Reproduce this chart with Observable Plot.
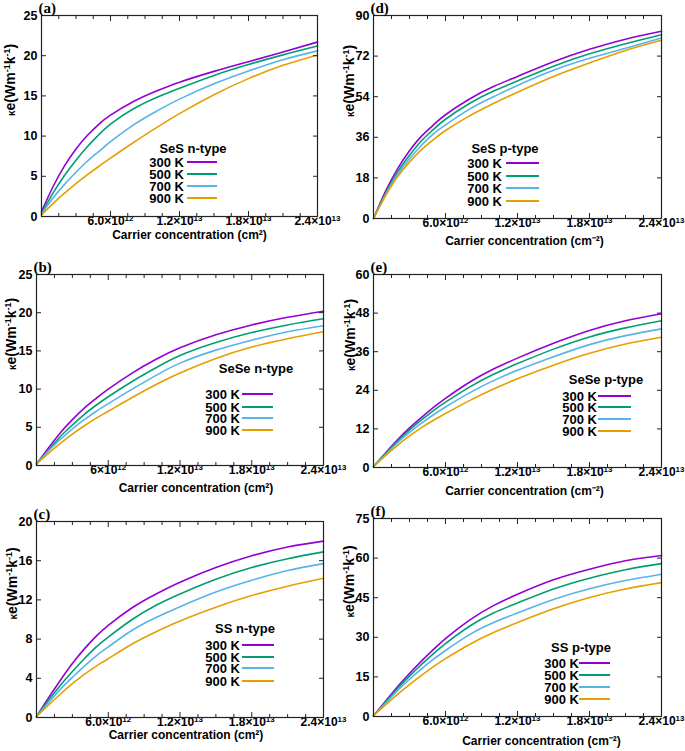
<!DOCTYPE html>
<html><head><meta charset="utf-8">
<script src="https://cdn.jsdelivr.net/npm/d3@7"></script>
<script src="https://cdn.jsdelivr.net/npm/@observablehq/plot@0.6"></script>
<style>
body{margin:0;background:#fff;}
#root{position:relative;width:685px;height:751px;overflow:hidden;background:#fff;font-family:"Liberation Sans",Arial,sans-serif;}
.panel{position:absolute;}
.panel svg{overflow:visible;}
.lg{position:absolute;font-weight:bold;font-size:13px;color:#000;white-space:nowrap;line-height:1;}
.ln{position:absolute;height:2px;}
</style></head><body><div id="root"></div>
<script>
// ---------- data ----------
const conc = [0, 1e12, 2e12, 3e12, 4e12, 5e12, 6e12, 8e12, 1e13, 1.2e13, 1.5e13, 1.8e13, 2.1e13, 2.4e13];
const temps = ["300 K", "500 K", "700 K", "900 K"];
const colors = ["#9400d3", "#009e73", "#56b4e9", "#e69f00"];
const xTicks = [6e12, 1.2e13, 1.8e13, 2.4e13];
const xMinor = [1.5e12, 3e12, 4.5e12, 7.5e12, 9e12, 1.05e13, 1.35e13, 1.5e13, 1.65e13, 1.95e13, 2.1e13, 2.25e13];
const xTickLabels = ["6.0×10¹²", "1.2×10¹³", "1.8×10¹³", "2.4×10¹³"];
const xTickLabelsB = ["6×10¹²", "1.2×10¹³", "1.8×10¹³", "2.4×10¹³"];
const yTicksA = [0, 5, 10, 15, 20, 25];
const yTicksD = [0, 18, 36, 54, 72, 90];
const yTicksB = [0, 5, 10, 15, 20, 25];
const yTicksE = [0, 12, 24, 36, 48, 60];
const yTicksC = [0, 4, 8, 12, 16, 20];
const yTicksF = [0, 15, 30, 45, 60, 75];

// (a) SeS n-type
const SeS_n_300 = [0.6, 3.7, 6.3, 8.4, 10.1, 11.5, 12.6, 14.3, 15.6, 16.7, 18.05, 19.25, 20.45, 21.7];
const SeS_n_500 = [0.4, 2.9, 5.1, 7.0, 8.7, 10.2, 11.5, 13.4, 14.8, 15.95, 17.55, 18.9, 20.1, 21.2];
const SeS_n_700 = [0.3, 2.3, 4.0, 5.5, 6.9, 8.1, 9.3, 11.4, 13.1, 14.6, 16.5, 18.1, 19.5, 20.6];
const SeS_n_900 = [0.2, 1.6, 2.9, 4.1, 5.2, 6.25, 7.25, 9.2, 11.05, 12.8, 15.15, 17.15, 18.8, 20.1];
// (d) SeS p-type
const SeS_p_300 = [0, 12, 22, 30, 36.5, 41.5, 46, 53, 58.5, 63, 69.5, 75, 79.5, 83];
const SeS_p_500 = [0, 11, 20.5, 28, 34.5, 39.5, 44, 51, 56.5, 61, 67.5, 73, 77.5, 81.5];
const SeS_p_700 = [0, 10.5, 19.5, 26.5, 32.5, 37.5, 41.5, 48.5, 54, 59, 65.7, 71, 75.5, 80];
const SeS_p_900 = [0, 10, 18.5, 25, 30.5, 35, 39, 45.5, 51, 56, 63, 69, 74.5, 79];
// (b) SeSe n-type
const SeSe_n_300 = [0.2, 2.3, 4.3, 6.0, 7.5, 8.8, 10.0, 12.1, 13.9, 15.4, 17.1, 18.4, 19.4, 20.2];
const SeSe_n_500 = [0.2, 2.0, 3.8, 5.3, 6.7, 7.9, 9.0, 11.0, 12.8, 14.4, 16.1, 17.4, 18.4, 19.2];
const SeSe_n_700 = [0.2, 1.9, 3.4, 4.8, 6.0, 7.1, 8.1, 10.0, 11.8, 13.4, 15.1, 16.4, 17.5, 18.3];
const SeSe_n_900 = [0.2, 1.6, 2.9, 4.1, 5.2, 6.2, 7.1, 8.9, 10.6, 12.1, 14.0, 15.5, 16.6, 17.5];
// (e) SeSe p-type
const SeSe_p_300 = [0.3, 4.5, 8.6, 12.3, 15.6, 18.7, 21.5, 26.5, 30.6, 34.0, 38.6, 42.6, 45.6, 47.8];
const SeSe_p_500 = [0.3, 4.3, 8.2, 11.7, 14.8, 17.7, 20.3, 25.0, 29.0, 32.3, 36.8, 40.6, 43.4, 45.6];
const SeSe_p_700 = [0.3, 4.0, 7.7, 10.9, 13.8, 16.4, 18.8, 23.2, 27.0, 30.2, 34.4, 38.2, 41.0, 43.1];
const SeSe_p_900 = [0.3, 3.7, 6.9, 9.8, 12.4, 14.7, 16.8, 20.8, 24.4, 27.6, 31.8, 35.5, 38.4, 40.5];
// (c) SS n-type
const SS_n_300 = [0.1, 2.0, 3.8, 5.5, 7.0, 8.3, 9.4, 11.2, 12.6, 13.8, 15.3, 16.5, 17.4, 18.0];
const SS_n_500 = [0.1, 1.75, 3.3, 4.7, 6.0, 7.2, 8.2, 10.0, 11.45, 12.6, 14.1, 15.3, 16.2, 16.9];
const SS_n_700 = [0.1, 1.5, 2.9, 4.1, 5.25, 6.3, 7.2, 8.9, 10.2, 11.3, 12.8, 14.0, 15.0, 15.7];
const SS_n_900 = [0.1, 1.25, 2.4, 3.45, 4.4, 5.25, 6.0, 7.5, 8.75, 9.85, 11.25, 12.45, 13.4, 14.2];
// (f) SS p-type
const SS_p_300 = [0.3, 5.8, 11.3, 16.3, 21.0, 25.4, 29.5, 36.5, 42.0, 46.3, 51.8, 55.8, 59.0, 61.0];
const SS_p_500 = [0.3, 5.4, 10.6, 15.3, 19.7, 23.8, 27.6, 34.2, 39.2, 43.0, 48.3, 52.4, 55.6, 57.9];
const SS_p_700 = [0.3, 5.0, 9.8, 14.1, 18.0, 21.7, 25.0, 31.0, 35.6, 39.2, 44.3, 48.4, 51.5, 53.9];
const SS_p_900 = [0.3, 4.4, 8.4, 12.1, 15.6, 18.9, 21.9, 27.3, 31.8, 35.6, 40.8, 45.1, 48.3, 50.7];

const yLabel = "κe(Wm⁻¹k⁻¹)";
const yLabelParts = [["κ", "small"], ["e(Wm", "normal"], ["-1", "sup"], ["k", "normal"], ["-1", "sup"], [")", "normal"]];
const xLabelN = "Carrier concentration (cm²)";
const xLabelP = "Carrier concentration (cm⁻²)";
const supMap = {"¹": "1", "²": "2", "³": "3"};

// ---------- layout ----------
const panels = [
  {letter:"(a)", name:"SeS n-type", series:[SeS_n_300,SeS_n_500,SeS_n_700,SeS_n_900], yMax:25, yTicks:yTicksA, xLabels:xTickLabels, xLabel:xLabelN,
   left:0, top:0, w:342, h:250, m:[15,25,34,41], ylabDx:-31, xlabDy:19, xlabDx:10,
   lg:{tx:193, ty:148, tr:184, rows:[162,174,186,198], l1:187, l2:217}},
  {letter:"(d)", name:"SeS p-type", series:[SeS_p_300,SeS_p_500,SeS_p_700,SeS_p_900], yMax:90, yTicks:yTicksD, xLabels:xTickLabels, xLabel:xLabelP,
   left:342, top:0, w:343, h:250, m:[15,24,32,31], ylabDx:-24, xlabDy:23, xlabDx:7,
   lg:{tx:505, ty:148, tr:502, rows:[163,176,188,201], l1:506, l2:539}},
  {letter:"(b)", name:"SeSe n-type", series:[SeSe_n_300,SeSe_n_500,SeSe_n_700,SeSe_n_900], yMax:25, yTicks:yTicksB, xLabels:xTickLabelsB, xLabel:xLabelN,
   left:0, top:250, w:342, h:250, m:[24,19,35,36], ylabDx:-25, xlabDy:23, xlabDx:16,
   lg:{tx:256, ty:368, tr:240, rows:[394,407,418,430], l1:242, l2:273}},
  {letter:"(e)", name:"SeSe p-type", series:[SeSe_p_300,SeSe_p_500,SeSe_p_700,SeSe_p_900], yMax:60, yTicks:yTicksE, xLabels:xTickLabels, xLabel:xLabelP,
   left:342, top:250, w:343, h:250, m:[24,24,33,31], ylabDx:-23, xlabDy:24, xlabDx:7,
   lg:{tx:606, ty:379, tr:597, rows:[396,407,419,431], l1:598, l2:631}},
  {letter:"(c)", name:"SS n-type", series:[SS_n_300,SS_n_500,SS_n_700,SS_n_900], yMax:20, yTicks:yTicksC, xLabels:xTickLabels, xLabel:xLabelN,
   left:0, top:500, w:342, h:251, m:[21,19,34,36], ylabDx:-24, xlabDy:18, xlabDx:6,
   lg:{tx:245, ty:628, tr:240, rows:[645,657,668,681], l1:242, l2:274}},
  {letter:"(f)", name:"SS p-type", series:[SS_p_300,SS_p_500,SS_p_700,SS_p_900], yMax:75, yTicks:yTicksF, xLabels:xTickLabels, xLabel:xLabelP,
   left:342, top:500, w:343, h:251, m:[18,24,35,31], ylabDx:-24, xlabDy:25, xlabDx:24,
   lg:{tx:581, ty:647, tr:579, rows:[663,675,687,699], l1:579, l2:610}}
];

const root = document.getElementById("root");
const sans = "Liberation Sans, Arial, Helvetica, sans-serif";
const SVGNS = "http://www.w3.org/2000/svg";

for (const p of panels) {
  const rows = p.series.flatMap((vals, i) => vals.map((v, j) => ({x: conc[j], y: v, t: temps[i]})));
  const svg = Plot.plot({
    width: p.w, height: p.h,
    marginTop: p.m[0], marginRight: p.m[1], marginBottom: p.m[2], marginLeft: p.m[3],
    style: {fontFamily: sans, background: "transparent", overflow: "visible"},
    x: {domain: [0, 2.4e13], label: null},
    y: {domain: [0, p.yMax], label: null},
    color: {domain: temps, range: colors},
    marks: [
      Plot.line(rows, {x: "x", y: "y", z: "t", stroke: "t", strokeWidth: 1.6, curve: "natural"}),
      Plot.axisX(xMinor, {anchor: "bottom", tickSize: -3, tickFormat: () => "", stroke: "#222"}),
      Plot.axisX(xMinor, {anchor: "top", tickSize: -3, tickFormat: () => "", stroke: "#222"}),
      Plot.axisX(xTicks, {anchor: "top", tickSize: -5, tickFormat: () => "", stroke: "#222"}),
      Plot.axisX(xTicks, {anchor: "bottom", tickSize: -5, tickPadding: 5, tickFormat: d => p.xLabels[xTicks.indexOf(d)],
        fontSize: 12, fontWeight: "bold", fill: "#000", stroke: "#222"}),
      Plot.axisY(p.yTicks, {anchor: "left", tickSize: -5, tickPadding: 9, tickFormat: d => String(d),
        fontSize: 12.5, fontWeight: "bold", fill: "#000", stroke: "#222"}),
      Plot.axisY(p.yTicks, {anchor: "right", tickSize: -5, tickFormat: () => "", stroke: "#222"}),
      Plot.frame({stroke: "#222", strokeWidth: 1.2}),
      Plot.text([p.xLabel], {text: d => d, frameAnchor: "bottom", dx: p.xlabDx, dy: p.xlabDy, lineAnchor: "middle",
        fontSize: 12, fontWeight: "bold", fill: "#000"}),
      Plot.text([yLabel], {text: d => d, frameAnchor: "left", dx: p.ylabDx, rotate: -90, lineAnchor: "middle",
        fontSize: 14, fontWeight: "bold", fill: "#000"}),
      Plot.text([p.letter], {text: d => d, frameAnchor: "top-left", textAnchor: "start", dx: -3, dy: -7.5, lineAnchor: "middle",
        fontSize: 15, fontWeight: "bold", fill: "#000", fontFamily: "Liberation Serif, Times New Roman, serif"})
    ]
  });
  svg.querySelectorAll("text").forEach(t => {
    const s = t.textContent;
    if (s === yLabel) {
      // rich y label: small kappa and superscripts
      t.textContent = "";
      for (const [part, kind] of yLabelParts) {
        const ts = document.createElementNS(SVGNS, "tspan");
        ts.textContent = part;
        if (kind === "small") ts.setAttribute("font-size", "10");
        if (kind === "sup") { ts.setAttribute("font-size", "9"); ts.setAttribute("baseline-shift", "super"); }
        t.appendChild(ts);
      }
    } else if (p.xLabels.includes(s)) {
      // tick label: mantissa×10 with smaller superscript exponent
      const base = [...s].filter(c => !(c in supMap)).join("");
      const exp = [...s].filter(c => c in supMap).map(c => supMap[c]).join("");
      t.textContent = "";
      t.setAttribute("font-weight", "bold");
      const b = document.createElementNS(SVGNS, "tspan");
      b.textContent = base;
      const e = document.createElementNS(SVGNS, "tspan");
      e.textContent = exp;
      e.setAttribute("font-size", "8");
      e.setAttribute("baseline-shift", "super");
      t.appendChild(b); t.appendChild(e);
    }
  });
  const wrap = document.createElement("div");
  wrap.className = "panel";
  wrap.style.left = p.left + "px";
  wrap.style.top = p.top + "px";
  wrap.appendChild(svg);
  root.appendChild(wrap);
}

// legends (HTML overlay)
for (const p of panels) {
  const L = p.lg;
  const t = document.createElement("div");
  t.className = "lg";
  t.textContent = p.name;
  t.style.left = L.tx + "px"; t.style.top = L.ty + "px";
  t.style.transform = "translate(-50%,-50%)";
  root.appendChild(t);
  temps.forEach((tk, i) => {
    const r = document.createElement("div");
    r.className = "lg";
    r.textContent = tk;
    r.style.left = L.tr + "px"; r.style.top = L.rows[i] + "px";
    r.style.transform = "translate(-100%,-50%)";
    root.appendChild(r);
    const ln = document.createElement("div");
    ln.className = "ln";
    ln.style.left = L.l1 + "px"; ln.style.width = (L.l2 - L.l1) + "px";
    ln.style.top = (L.rows[i] - 1) + "px";
    ln.style.background = colors[i];
    root.appendChild(ln);
  });
}
</script>
</body></html>
